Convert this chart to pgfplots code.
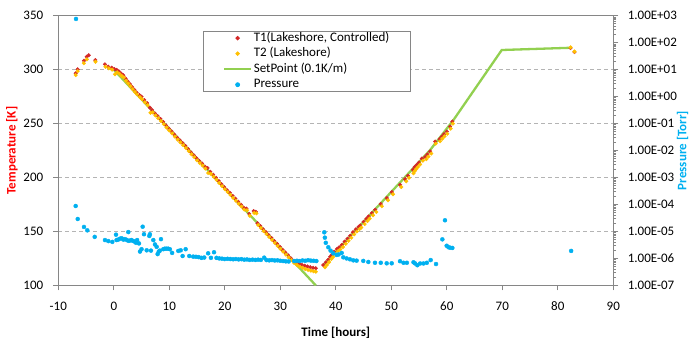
\documentclass[border=0pt]{standalone}
\usepackage{fontspec}
\setmainfont{Carlito}
\usepackage{pgfplots}
\pgfplotsset{compat=1.18}
\usepackage{pgfplotstable}
\definecolor{t1col}{RGB}{212,40,40}
\definecolor{t2col}{RGB}{255,192,0}
\definecolor{spcol}{RGB}{146,208,80}
\definecolor{prcol}{RGB}{0,176,240}
\definecolor{axgray}{RGB}{134,134,134}
\definecolor{gridgray}{RGB}{180,180,180}

\pgfplotstableread{
x T
-6.87 296.6
-6.5 300.3
-5.37 308.3
-4.89 312.0
-4.52 313.3
-3.33 308.9
-1.59 304.9
-0.99 302.7
-0.38 301.8
0.1 300.6
0.5 299.8
0.9 298.4
1.3 296.5
1.7 294.8
2.1 291.8
2.5 289.2
2.9 286.6
3.3 283.9
3.7 281.4
4.1 278.9
4.6 276.4
5.0 274.9
5.5 271.8
6.0 269.0
6.5 264.8
6.9 262.6
7.4 259.4
7.9 257.0
8.4 254.3
8.9 251.6
9.4 248.3
9.9 245.5
10.4 242.8
10.9 239.9
11.4 237.0
11.9 234.5
12.4 231.9
12.9 229.3
13.4 226.4
13.9 223.4
14.4 220.6
14.9 217.8
15.4 215.4
15.9 213.1
16.4 210.2
16.9 208.8
17.4 205.3
17.9 202.6
18.4 199.8
18.9 196.8
19.4 193.8
19.9 191.0
20.4 188.3
20.9 185.9
21.4 183.0
21.9 180.4
22.4 177.6
22.9 174.9
23.4 172.2
23.9 171.2
24.4 166.3
25.2 168.9
25.6 168.2
25.9 157.6
26.4 155.0
26.9 152.1
27.4 149.4
27.9 146.7
28.4 144.0
28.9 141.2
29.4 138.6
29.9 135.9
30.4 133.1
30.9 130.5
31.4 127.9
31.9 125.2
32.4 122.7
32.9 121.3
33.4 120.1
33.9 119.1
34.4 118.3
34.9 117.6
35.4 116.9
35.9 116.3
36.4 115.9
37.75 118.9
38.2 121.4
38.65 123.8
39.0 126.6
39.3 128.5
39.7 131.2
40.2 133.8
40.6 135.4
41.1 137.6
41.6 140.6
42.1 143.3
42.6 146.1
43.1 149.3
43.6 152.0
44.1 154.3
44.4 155.6
45.0 158.9
45.5 161.7
45.9 163.9
46.5 167.0
47.1 170.1
48.1 175.4
49.2 180.9
50.1 186.5
51.6 193.2
52.5 198.5
53.0 201.7
53.9 207.2
54.2 209.6
54.6 211.8
55.0 213.9
55.5 217.6
56.1 219.0
56.5 221.4
57.0 224.2
57.9 233.4
58.7 235.6
59.1 237.9
59.5 240.2
60.0 242.6
60.6 247.3
61.0 251.9
82.3 320.0
83.0 316.3
}\tone

\pgfplotstableread{
x T
-6.87 295.0
-6.5 298.6
-5.4 306.0
-4.85 309.5
-3.3 307.3
-1.5 302.7
-0.9 301.2
-0.3 300.0
0.22 295.7
0.6 297.6
1.0 296.2
1.4 294.3
1.8 292.8
2.2 289.7
2.6 287.1
3.0 284.6
3.4 281.9
3.8 279.3
4.2 277.0
4.7 274.5
5.1 272.6
5.6 269.7
6.1 267.1
6.6 260.0
7.0 260.4
7.5 257.5
8.0 255.0
8.5 252.3
9.0 249.5
9.5 246.4
10.0 243.6
10.5 240.9
11.0 238.0
11.5 235.1
12.0 232.6
12.5 230.0
13.0 227.3
13.5 224.5
14.0 221.6
14.5 218.9
15.0 215.9
15.5 213.4
16.0 211.1
16.5 208.3
17.0 204.2
17.5 203.4
18.0 200.8
18.5 197.9
19.0 194.9
19.5 192.0
20.0 189.2
20.5 186.6
21.0 184.0
21.5 181.2
22.0 178.5
22.5 175.8
23.0 173.1
23.5 170.3
24.0 169.6
24.5 164.6
25.3 167.2
25.7 166.8
26.0 156.0
26.5 153.2
27.0 150.3
27.5 147.6
28.0 144.9
28.5 142.2
29.0 139.4
29.5 136.7
30.0 134.0
30.5 131.3
31.0 128.6
31.5 126.0
32.0 123.4
32.5 120.8
33.0 118.9
33.5 117.4
34.0 116.3
34.5 115.2
35.0 114.4
35.5 113.7
36.0 113.1
36.4 112.7
38.06 116.8
38.4 119.0
38.8 121.6
39.2 124.6
39.5 126.3
39.9 129.0
40.4 131.8
40.8 133.4
41.3 135.6
41.8 138.6
42.3 141.3
42.8 144.2
43.3 147.3
43.8 150.0
44.3 152.3
44.6 153.6
45.2 156.9
45.7 159.7
46.1 161.9
46.7 165.0
47.3 168.1
48.3 173.4
49.4 178.9
50.3 184.5
51.8 191.2
52.7 196.5
53.2 199.7
54.0 204.0
54.2 205.9
54.5 207.9
54.8 209.8
55.2 212.1
55.7 215.6
56.3 217.0
56.7 219.4
57.2 222.2
58.0 231.4
58.8 233.6
59.2 236.0
59.6 238.2
60.1 240.6
60.7 245.3
61.1 250.0
82.3 320.7
83.0 316.8
}\ttwo

\pgfplotstableread{
x T
0 300
36.4 100
nan nan
37.8 119
57.0 225.5
61.2 253.3
69.9 318.2
82.5 320.3
}\setp

\pgfplotstableread{
x P
-6.81 760
-6.87 8.8e-5
-6.5 2.9e-5
-5.37 1.47e-5
-4.77 1.1e-5
-3.44 6.3e-6
-1.59 4.8e-6
-0.99 4.4e-6
-0.27 4.1e-6
0.4 7.6e-6
0.5 4.8e-6
0.8 5.0e-6
1.12 5.4e-6
1.4 5.6e-6
1.72 5.0e-6
2.0 5.2e-6
2.3 4.9e-6
2.61 9.5e-6
2.61 4.5e-6
2.9 4.6e-6
3.2 4.8e-6
3.5 4.4e-6
3.8 4.2e-6
4.0 3.8e-6
4.2 4.8e-6
4.54 3.6e-6
4.72 1.8e-6
5.0 2.2e-6
5.2 1.5e-5
5.44 7.9e-6
5.93 2.0e-6
6.4 6.8e-6
6.5 7.9e-6
6.7 1.95e-6
7.12 4.8e-6
7.42 3.3e-6
7.72 2.7e-6
7.9 1.45e-6
8.1 1.8e-6
8.3 1.95e-6
8.5 5.2e-6
8.92 2.2e-6
9.2 2.3e-6
9.5 2.3e-6
9.8 2.3e-6
10.1 2.2e-6
10.5 1.6e-6
11.62 1.9e-6
12.05 2.0e-6
12.4 1.23e-6
12.95 2.2e-6
13.6 1.23e-6
14.3 1.17e-6
14.8 1.15e-6
15.3 1.12e-6
15.8 1.05e-6
16.3 1.08e-6
17.0 1.55e-6
17.5 1.05e-6
18.06 1.7e-6
18.5 1.05e-6
19.0 1.0e-6
19.5 0.98e-6
20.0 0.95e-6
20.5 0.97e-6
21.0 0.95e-6
21.5 0.93e-6
22.0 0.95e-6
22.5 0.92e-6
23.0 0.94e-6
23.5 0.9e-6
24.0 0.92e-6
24.5 0.88e-6
25.0 0.9e-6
25.5 0.88e-6
26.0 0.9e-6
26.5 0.88e-6
27.1 1.07e-6
27.5 0.87e-6
28.0 0.85e-6
28.5 0.87e-6
29.0 0.84e-6
29.5 0.85e-6
30.0 0.82e-6
30.5 0.8e-6
31.0 0.78e-6
31.5 0.77e-6
32.5 0.8e-6
33.0 0.82e-6
33.5 0.8e-6
34.0 0.84e-6
34.5 0.82e-6
35.0 0.86e-6
35.5 0.83e-6
36.0 0.82e-6
36.5 0.8e-6
37.93 9.3e-6
38.03 5.9e-6
38.2 3.8e-6
38.65 2.6e-6
39.06 1.95e-6
39.55 1.55e-6
40.16 1.35e-6
40.5 1.4e-6
41.06 1.6e-6
41.35 1.1e-6
41.95 1.0e-6
42.55 0.93e-6
43.15 0.85e-6
43.75 0.83e-6
44.95 0.81e-6
45.86 0.74e-6
47.06 0.69e-6
48.1 0.69e-6
49.17 0.66e-6
50.07 0.66e-6
51.57 0.79e-6
52.2 0.69e-6
52.8 0.69e-6
54.0 0.72e-6
54.3 0.65e-6
54.7 0.56e-6
55.2 0.65e-6
55.8 0.65e-6
56.4 0.69e-6
57.1 0.87e-6
58.06 0.62e-6
59.2 5.1e-6
59.67 2.6e-5
59.98 2.95e-6
60.3 2.6e-6
60.6 2.5e-6
61.0 2.45e-6
82.4 1.9e-6
}\press

\begin{document}
\begin{tikzpicture}[font=\fontsize{13}{15.6}\selectfont]
\path[use as bounding box] (-58.3pt,-57.7pt) rectangle (633.7pt,285.4pt);
\pgfplotsset{
  every axis/.append style={
    scale only axis, width=555pt, height=269.7pt,
    xmin=-10, xmax=90,
    tick align=outside, major tick length=5pt,
    axis line style={draw=axgray, line width=0.8pt},
    tick style={draw=axgray, line width=0.8pt},
    /pgf/number format/assume math mode=true,
    tick label style={font=\fontsize{13}{15.6}\selectfont},
    label style={font=\fontsize{13}{15.6}\selectfont\bfseries},
  },
  legend image code/.code={\draw[mark repeat=2,mark phase=2,#1] plot coordinates {(0pt,0pt) (13.5pt,0pt) (27pt,0pt)};},
}
\begin{axis}[
  at={(0,0)}, anchor=south west,
  ymin=100, ymax=350,
  xtick={-10,0,...,90}, ytick={100,150,...,350},
  xtick pos=bottom, ytick pos=left,
  ymajorgrids, grid style={dashed, gridgray, line width=0.7pt, dash pattern=on 4pt off 3pt},
  xlabel={Time [hours]},
  ylabel={\textcolor{red}{Temperature [K]}},
  xlabel style={at={(axis description cs:0.5,0)}, anchor=center, yshift=-47.7pt},
  ylabel style={at={(axis description cs:0,0.5)}, anchor=center, xshift=0pt, yshift=46.3pt},
  yticklabel style={xshift=-6.5pt},
  xticklabel style={yshift=-8pt},
]
\addplot[only marks, mark=*, mark size=1.8pt, color=t1col, mark options={draw=none, fill=t1col}] table[x=x,y=T] {\tone};
\addplot[only marks, mark=*, mark size=1.8pt, color=t2col, mark options={draw=none, fill=t2col}] table[x=x,y=T] {\ttwo};
\addplot[spcol, line width=2.3pt, no marks, unbounded coords=jump] table[x=x,y=T] {\setp};
\end{axis}
\begin{axis}[
  at={(0,0)}, anchor=south west,
  ymode=log, ymin=1e-7, ymax=1e3,
  axis x line=none, axis y line*=right,
  ytick={1e-7,1e-6,1e-5,1e-4,1e-3,1e-2,1e-1,1,10,100,1000},
  yticklabels={1.00E-07,1.00E-06,1.00E-05,1.00E-04,1.00E-03,1.00E-02,1.00E-01,1.00E+00,1.00E+01,1.00E+02,1.00E+03},
  yticklabel style={xshift=6pt, anchor=west},
  ylabel={\textcolor{prcol}{Pressure [Torr]}},
  ylabel style={at={(axis description cs:1,0.5)}, anchor=center, yshift=-69.4pt},
  legend style={at={(axis description cs:0.26,0.944)}, anchor=north west,
    draw=axgray, line width=0.8pt, fill=white, inner xsep=20pt, inner ysep=0.5pt,
    column sep=0pt, row sep=2.5pt,
    nodes={inner xsep=1.5pt, inner ysep=1pt, text height=8.5pt, text depth=2.5pt},
    font=\fontsize{13}{15.6}\selectfont},
  legend cell align=left,
]
\addlegendimage{only marks, mark=*, mark size=1.8pt, color=t1col, mark options={draw=none, fill=t1col}}
\addlegendentry{T1(Lakeshore, Controlled)\hspace{7pt}}
\addlegendimage{only marks, mark=*, mark size=1.8pt, color=t2col, mark options={draw=none, fill=t2col}}
\addlegendentry{T2 (Lakeshore)}
\addlegendimage{spcol, line width=2.3pt, no marks}
\addlegendentry{SetPoint (0.1K/m)}
\addplot[only marks, mark=*, mark size=2pt, color=prcol, mark options={draw=none, fill=prcol}] table[x=x,y=P] {\press};
\addlegendentry{Pressure}
\end{axis}
\end{tikzpicture}
\end{document}
